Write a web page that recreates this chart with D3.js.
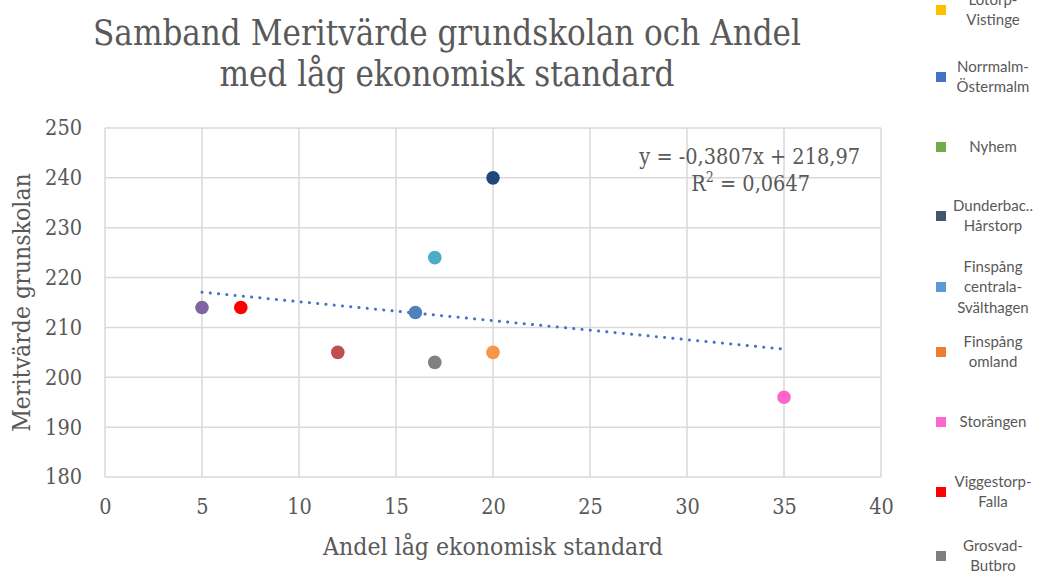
<!DOCTYPE html>
<html>
<head>
<meta charset="utf-8">
<script src="https://cdn.jsdelivr.net/npm/d3@7"></script>
<style>
  body { margin: 0; background: #fff; }
  svg { display: block; }
</style>
</head>
<body>
<svg id="chart" width="1039" height="577"></svg>
<script>
// Share with low economic standard (%) and merit value per area
const xValues = [5, 7, 12, 16, 17, 17, 20, 20, 35];
const yValues = [214, 214, 205, 213, 224, 203, 240, 205, 196];
const pointColors = ["#8064A2", "#FF0000", "#C0504D", "#4F81BD", "#4BACC6", "#808080", "#1F497D", "#F79646", "#FF66CC"];

// Legend entries (legend is scrolled: the first entries lie above the top edge)
const legendNames = [
  ["Lotorp-", "Vistinge"],
  ["Norrmalm-", "Östermalm"],
  ["Nyhem"],
  ["Dunderbac..", "Hårstorp"],
  ["Finspång", "centrala-", "Svälthagen"],
  ["Finspång", "omland"],
  ["Storängen"],
  ["Viggestorp-", "Falla"],
  ["Grosvad-", "Butbro"]
];
const legendColors = ["#FFC000", "#4472C4", "#70AD47", "#44546A", "#5B9BD5", "#ED7D31", "#FF66CC", "#FF0000", "#7F7F7F"];
const legendMarkerY = [10, 77, 147, 216, 287, 352, 422, 492, 556];

const xTicks = [0, 5, 10, 15, 20, 25, 30, 35, 40];
const yTicks = [180, 190, 200, 210, 220, 230, 240, 250];

const titleLines = ["Samband Meritvärde grundskolan och Andel", "med låg ekonomisk standard"];
const xTitle = "Andel låg ekonomisk standard";
const yTitle = "Meritvärde grunskolan";

const svg = d3.select("#chart");
const serif = "'DejaVu Serif Condensed', 'DejaVu Serif', serif";
const textGray = "#595959";
const gridGray = "#D9D9D9";

const plot = { left: 105, right: 881, top: 128, bottom: 477 };
const x = d3.scaleLinear().domain([0, 40]).range([plot.left, plot.right]);
const y = d3.scaleLinear().domain([180, 250]).range([plot.bottom, plot.top]);

// Gridlines
const grid = svg.append("g");
grid.selectAll("line.v").data(xTicks).join("line")
  .attr("x1", d => x(d)).attr("x2", d => x(d))
  .attr("y1", plot.top).attr("y2", plot.bottom)
  .attr("stroke", gridGray).attr("stroke-width", 1.5);
grid.selectAll("line.h").data(yTicks).join("line")
  .attr("x1", plot.left).attr("x2", plot.right)
  .attr("y1", d => y(d)).attr("y2", d => y(d))
  .attr("stroke", gridGray).attr("stroke-width", 1.5);

// Axes (labels only, lines come from the grid)
const xAxis = svg.append("g")
  .attr("transform", `translate(0,${plot.bottom})`)
  .call(d3.axisBottom(x).tickValues(xTicks).tickSize(0).tickPadding(22));
const yAxis = svg.append("g")
  .attr("transform", `translate(${plot.left},0)`)
  .call(d3.axisLeft(y).tickValues(yTicks).tickSize(0).tickPadding(23));
[xAxis, yAxis].forEach(a => {
  a.select(".domain").remove();
  a.selectAll("text").attr("font-family", serif).attr("font-size", 21.5).attr("fill", textGray);
});

// Linear trend line over the data range
const n = xValues.length;
const mx = d3.mean(xValues), my = d3.mean(yValues);
let sxy = 0, sxx = 0;
for (let i = 0; i < n; i++) {
  sxy += (xValues[i] - mx) * (yValues[i] - my);
  sxx += (xValues[i] - mx) ** 2;
}
const slope = sxy / sxx;
const intercept = my - slope * mx;
const [xMin, xMax] = d3.extent(xValues);
svg.append("line")
  .attr("x1", x(xMin)).attr("y1", y(slope * xMin + intercept))
  .attr("x2", x(xMax)).attr("y2", y(slope * xMax + intercept))
  .attr("stroke", "#4472C4").attr("stroke-width", 3)
  .attr("stroke-linecap", "round").attr("stroke-dasharray", "0.1 8.2");

// Points
svg.append("g").selectAll("circle").data(xValues).join("circle")
  .attr("cx", d => x(d))
  .attr("cy", (d, i) => y(yValues[i]))
  .attr("r", 6.8)
  .attr("fill", (d, i) => pointColors[i]);

// Equation label
const eq = svg.append("g").attr("font-family", serif).attr("font-size", 21.5).attr("fill", textGray);
eq.append("text").attr("x", 860).attr("y", 164).attr("text-anchor", "end")
  .text("y = -0,3807x + 218,97");
const r2 = eq.append("text").attr("x", 810).attr("y", 191).attr("text-anchor", "end");
r2.append("tspan").text("R");
r2.append("tspan").attr("dy", -9).attr("font-size", 14).text("2");
r2.append("tspan").attr("dy", 9).text(" = 0,0647");

// Title
svg.append("text")
  .attr("x", 447).attr("y", 45)
  .attr("text-anchor", "middle")
  .attr("font-family", serif).attr("font-size", 34.6).attr("fill", textGray)
  .selectAll("tspan").data(titleLines).join("tspan")
  .attr("x", 447).attr("dy", (d, i) => i === 0 ? 0 : 41)
  .text(d => d);

// Axis titles
svg.append("text")
  .attr("x", 493).attr("y", 555).attr("text-anchor", "middle")
  .attr("font-family", serif).attr("font-size", 24.6).attr("fill", textGray)
  .text(xTitle);
svg.append("text")
  .attr("transform", `translate(30,${(plot.top + plot.bottom) / 2}) rotate(-90)`)
  .attr("text-anchor", "middle")
  .attr("font-family", serif).attr("font-size", 24.6).attr("fill", textGray)
  .text(yTitle);

// Legend
const legend = svg.append("g").attr("font-family", "Lato, 'Open Sans', sans-serif").attr("font-size", 15).attr("fill", textGray);
legendNames.forEach((lines, i) => {
  const cy = legendMarkerY[i];
  legend.append("rect")
    .attr("x", 936).attr("y", cy - 5).attr("width", 10).attr("height", 10)
    .attr("fill", legendColors[i]);
  const lh = 20.5;
  const startY = cy - (lines.length - 1) * lh / 2 + 5;
  const t = legend.append("text").attr("text-anchor", "middle");
  lines.forEach((ln, j) => {
    t.append("tspan").attr("x", 993).attr("y", startY + j * lh).text(ln);
  });
});
</script>
</body>
</html>
